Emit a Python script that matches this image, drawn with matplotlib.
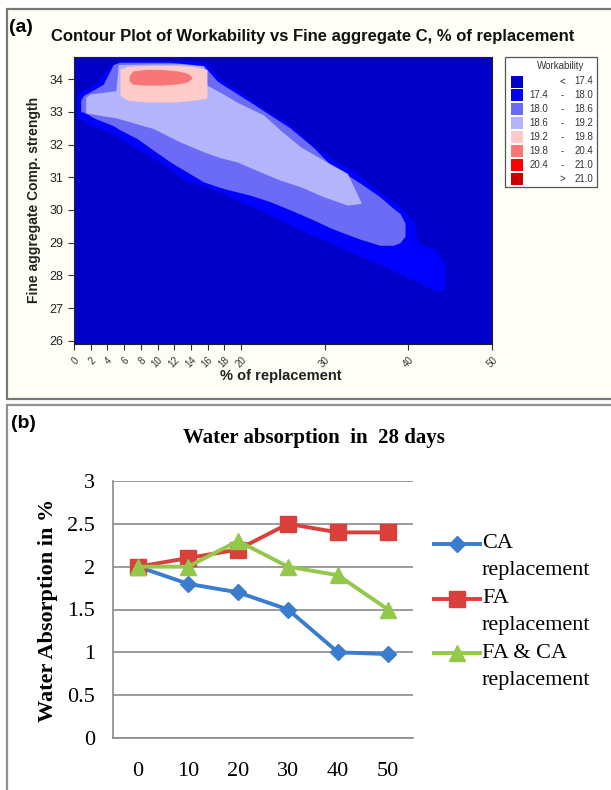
import matplotlib.pyplot as plt
import matplotlib.patches as mpatches
from matplotlib.lines import Line2D
import numpy as np

# ---------- (a) contour plot: edges of each workability band (x: % of replacement, y: comp. strength)
band_labels = ['<', '17.4', '18.0', '18.6', '19.2', '19.8', '20.4', '>']
band_edges = [17.4, 18.0, 18.6, 19.2, 19.8, 20.4, 21.0]
band_colors = ['#0000c8', '#0000ff', '#6b6bf6', '#b4b4fa', '#ffcaca', '#f87676', '#ff0000', '#cc0000']

x_174 = [0.3, 1.0, 2.5, 4.5, 5.5, 7.5, 10.3, 13.5, 16.0, 16.7, 17.5, 19.9, 22.7, 25.9,
         28.3, 31.1, 33.9, 36.3, 38.6, 40.6, 41.2, 43.4, 44.4]
hi_174 = [33.5, 33.65, 33.85, 34.45, 34.58, 34.58, 34.58, 34.58, 34.5, 34.22, 34.0, 33.61, 33.1, 32.6,
          32.03, 31.52, 31.12, 30.6, 30.2, 29.69, 29.0, 28.77, 28.3]
lo_174 = [32.8, 32.75, 32.55, 32.35, 32.2, 31.88, 31.47, 30.86, 30.7, 30.6, 30.55, 30.25, 29.94, 29.54,
          29.25, 28.95, 28.62, 28.38, 28.1, 27.85, 27.78, 27.5, 27.6]

x_180 = [0.8, 1.1, 2.5, 3.5, 4.7, 5.5, 7.5, 11.5, 15.5, 17.1, 18.0, 21.1, 23.5, 25.9, 28.7,
         30.7, 31.9, 34.3, 36.6, 38.2, 39.0, 39.6]
hi_180 = [33.35, 33.5, 33.7, 33.85, 34.45, 34.52, 34.52, 34.52, 34.42, 33.95, 33.8, 33.3, 32.9, 32.5, 31.9,
          31.37, 31.2, 30.81, 30.4, 30.05, 29.89, 29.6]
lo_180 = [33.0, 33.0, 32.8, 32.7, 32.58, 32.45, 32.19, 31.47, 30.86, 30.72, 30.65, 30.45, 30.25, 30.0, 29.69,
          29.45, 29.33, 29.1, 28.92, 28.92, 29.0, 29.2]

x_186 = [1.4, 1.9, 3.5, 5.0, 5.3, 9.5, 12.7, 15.5, 15.9, 17.5, 19.5, 22.7, 24.7, 27.1, 29.9, 32.7, 34.3]
hi_186 = [33.45, 33.55, 33.6, 33.65, 34.45, 34.47, 34.47, 34.4, 33.82, 33.6, 33.3, 32.9, 32.44, 31.93,
          31.52, 31.12, 30.25]
lo_186 = [32.97, 32.95, 32.88, 32.82, 32.8, 32.49, 32.08, 31.78, 31.74, 31.6, 31.47, 31.12, 30.91, 30.71,
          30.4, 30.15, 30.2]

x_192 = [5.5, 6.5, 9.0, 12.0, 14.0, 15.9]
hi_192 = [34.3, 34.4, 34.42, 34.42, 34.4, 34.3]
lo_192 = [33.5, 33.35, 33.3, 33.3, 33.35, 33.42]

x_198 = [6.6, 7.0, 8.5, 10.5, 12.5, 13.6, 14.1]
hi_198 = [34.1, 34.25, 34.3, 34.3, 34.25, 34.18, 34.07]
lo_198 = [33.95, 33.85, 33.82, 33.82, 33.86, 33.92, 34.03]

x_ticks_a = [0, 2, 4, 6, 8, 10, 12, 14, 16, 18, 20, 30, 40, 50]
y_ticks_a = [26, 27, 28, 29, 30, 31, 32, 33, 34]

# ---------- (b) water absorption in 28 days
replacement = [0, 10, 20, 30, 40, 50]
ca_repl = [2.0, 1.8, 1.7, 1.5, 1.0, 0.98]
fa_repl = [2.0, 2.1, 2.2, 2.5, 2.4, 2.4]
fa_ca_repl = [2.0, 2.0, 2.3, 2.0, 1.9, 1.5]
series_names = ['CA\nreplacement', 'FA\nreplacement', 'FA & CA\nreplacement']
series_colors = ['#3a7dcf', '#d9403b', '#94c84a']
series_markers = ['D', 's', '^']
series_ms = [8, 11, 11]

W, H = 611, 790
def fx(px):
    return px / W
def fy(py):
    return 1 - py / H

fig = plt.figure(figsize=(W / 100, H / 100), dpi=100)

# panel frames (their right edges run off the picture)
fig.patches.append(mpatches.Rectangle((fx(7), fy(399)), fx(620), 390 / H, transform=fig.transFigure,
                                      facecolor='#fefef7', edgecolor='#777777', lw=1.6, zorder=-5))
fig.patches.append(mpatches.Rectangle((fx(7), fy(796)), fx(620), 391 / H, transform=fig.transFigure,
                                      facecolor='white', edgecolor='#909090', lw=1.6, zorder=-5))

sans = 'Liberation Sans'
serif = 'Liberation Serif'

# ---------------- panel (a)
ax1 = fig.add_axes([fx(74), fy(344), 418 / W, 287 / H])
ax1.set_facecolor(band_colors[0])
bands = [(x_174, lo_174, hi_174), (x_180, lo_180, hi_180), (x_186, lo_186, hi_186),
         (x_192, lo_192, hi_192), (x_198, lo_198, hi_198)]
for i, (bx, lo, hi) in enumerate(bands):
    ax1.fill_between(bx, lo, hi, color=band_colors[i + 1], lw=0)
ax1.set_xlim(0, 50)
ax1.set_ylim(25.9, 34.68)
ax1.set_xticks(x_ticks_a)
ax1.set_xticklabels([str(v) for v in x_ticks_a], rotation=45, ha='right', rotation_mode='anchor',
                    fontsize=7, family=sans, color='#333333')
ax1.set_yticks(y_ticks_a)
ax1.set_yticklabels([str(v) for v in y_ticks_a], fontsize=9, family=sans, color='#222222')
ax1.tick_params(direction='out', length=4, width=0.8, color='#333333')
ax1.tick_params(axis='x', pad=4)
for s in ax1.spines.values():
    s.set_color('#222222')
    s.set_linewidth(0.8)

fig.text(fx(281), fy(376), '% of replacement', ha='center', va='center', fontsize=10.5,
         fontweight='bold', family=sans, color='#222222')
fig.text(fx(34), fy(200), 'Fine aggregate Comp. strength', ha='center', va='center', rotation=90,
         fontsize=10, fontweight='bold', family=sans, color='#222222')
fig.text(fx(313), fy(37), 'Contour Plot of Workability vs Fine aggregate C, % of replacement',
         ha='center', va='center', fontsize=12, fontweight='bold', family=sans, color='#111111')
fig.text(fx(9), fy(27), '(a)', ha='left', va='center', fontsize=14, fontweight='bold', family=sans)

# legend of panel (a)
fig.patches.append(mpatches.Rectangle((fx(505), fy(187)), 92 / W, 130 / H, transform=fig.transFigure,
                                      facecolor='white', edgecolor='#555555', lw=0.9, zorder=2))
fig.text(fx(561), fy(66), 'Workability', ha='center', va='center', fontsize=7, family=sans,
         color='#333333', zorder=3)
for i, c in enumerate(band_colors):
    ry = 81.5 + 13.9 * i
    fig.patches.append(mpatches.Rectangle((fx(511), fy(ry + 6)), 12 / W, 12 / H, transform=fig.transFigure,
                                          facecolor=c, edgecolor='none', zorder=3))
    if i == 0:
        left, mid, right = '', '<', '%.1f' % band_edges[0]
    elif i == len(band_colors) - 1:
        left, mid, right = '', '>', '%.1f' % band_edges[-1]
    else:
        left, mid, right = band_labels[i], '-', '%.1f' % band_edges[i]
    fig.text(fx(548), fy(ry), left, ha='right', va='center', fontsize=7, family=sans, color='#333333', zorder=3)
    fig.text(fx(562), fy(ry), mid, ha='center', va='center', fontsize=7, family=sans, color='#333333', zorder=3)
    fig.text(fx(593), fy(ry), right, ha='right', va='center', fontsize=7, family=sans, color='#333333', zorder=3)

# ---------------- panel (b)
ax2 = fig.add_axes([fx(113), fy(738), 300 / W, 257 / H])
ax2.patch.set_alpha(0)
xpos = np.arange(len(replacement))
for vals, c, m, ms in zip([ca_repl, fa_repl, fa_ca_repl], series_colors, series_markers, series_ms):
    ax2.plot(xpos, vals, color=c, marker=m, ms=ms, lw=2.8, zorder=3)
ax2.set_xlim(-0.5, 5.5)
ax2.set_ylim(0, 3)
ax2.set_xticks(xpos)
ax2.set_xticklabels([str(v) for v in replacement], fontsize=16, family=serif)
ax2.set_yticks(np.arange(0, 3.01, 0.5))
ax2.set_yticklabels(['0', '0.5', '1', '1.5', '2', '2.5', '3'], fontsize=16, family=serif)
ax2.tick_params(length=0)
ax2.tick_params(axis='y', pad=13)
ax2.tick_params(axis='x', pad=17)
ax2.yaxis.grid(True, color='#8a8a8a', lw=1.2)
ax2.set_axisbelow(True)
for side in ['top', 'right']:
    ax2.spines[side].set_visible(False)
for side in ['left', 'bottom']:
    ax2.spines[side].set_color('#8a8a8a')
    ax2.spines[side].set_linewidth(1.2)

fig.text(fx(314), fy(438), 'Water absorption  in  28 days', ha='center', va='center', fontsize=15,
         fontweight='bold', family=serif)
fig.text(fx(48), fy(610), 'Water Absorption in %', ha='center', va='center', rotation=90,
         fontsize=16, fontweight='bold', family=serif)
fig.text(fx(11), fy(424), '(b)', ha='left', va='center', fontsize=14, fontweight='bold', family=sans)

# legend of panel (b)
for i, (name, c, m, ms) in enumerate(zip(series_names, series_colors, series_markers, series_ms)):
    ly = 544 + 54.5 * i
    fig.add_artist(Line2D([fx(434), fx(480)], [fy(ly), fy(ly)], color=c, lw=2.8,
                          transform=fig.transFigure))
    fig.add_artist(Line2D([fx(457)], [fy(ly)], color=c, marker=m, ms=ms, transform=fig.transFigure))
    for k, line in enumerate(name.split('\n')):
        fig.text(fx(482), fy(ly + 27 * k), line, ha='left', va='center', fontsize=16, family=serif)

fig.savefig('out.png', dpi=100)
